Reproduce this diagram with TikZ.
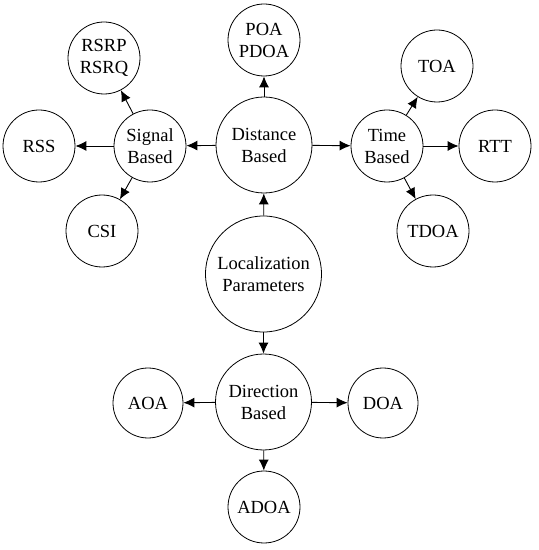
\documentclass[tikz,border=0pt]{standalone}
\usepackage{fontspec}
\setmainfont{Liberation Serif}
\usetikzlibrary{arrows.meta}
\begin{document}
\begin{tikzpicture}[x=1pt,y=1pt,
  bub/.style={draw, circle, line width=0.8pt, inner sep=0pt, align=center,
    font=\fontsize{18.5}{22}\selectfont},
  big/.style={bub, minimum size=116pt},
  mid/.style={bub, minimum size=96pt},
  sml/.style={bub, minimum size=72pt},
  arr/.style={line width=0.9pt, -{Latex[length=11pt,width=10pt]}}]
\useasboundingbox (0,0) rectangle (539,550);
\node[big] (loc) at (263.5,276) {Localization\\Parameters};
\node[mid] (dist) at (264,405) {Distance\\Based};
\node[sml] (poa) at (264,510) {POA\\PDOA};
\node[sml] (sig) at (150,404) {Signal\\Based};
\node[sml] (rsrp) at (104,492) {RSRP\\RSRQ};
\node[sml] (rss) at (39,404) {RSS};
\node[sml] (csi) at (102,319) {CSI};
\node[sml] (time) at (387,404) {Time\\Based};
\node[sml] (toa) at (437,484) {TOA};
\node[sml] (rtt) at (495,404) {RTT};
\node[sml] (tdoa) at (433,319) {TDOA};
\node[mid] (dir) at (263.5,148) {Direction\\Based};
\node[sml, minimum size=70pt] (aoa) at (148,147) {AOA};
\node[sml, minimum size=70pt] (doa) at (383,147) {DOA};
\node[sml] (adoa) at (264,43) {ADOA};
\draw[arr] (loc) -- (dist);
\draw[arr] (loc) -- (dir);
\draw[arr] (dist) -- (poa);
\draw[arr] (dist) -- (sig);
\draw[arr] (dist) -- (time);
\draw[arr] (sig) -- (rsrp);
\draw[arr] (sig) -- (rss);
\draw[arr] (sig) -- (csi);
\draw[arr] (time) -- (toa);
\draw[arr] (time) -- (rtt);
\draw[arr] (time) -- (tdoa);
\draw[arr] (dir) -- (aoa);
\draw[arr] (dir) -- (doa);
\draw[arr] (dir) -- (adoa);
\end{tikzpicture}
\end{document}
